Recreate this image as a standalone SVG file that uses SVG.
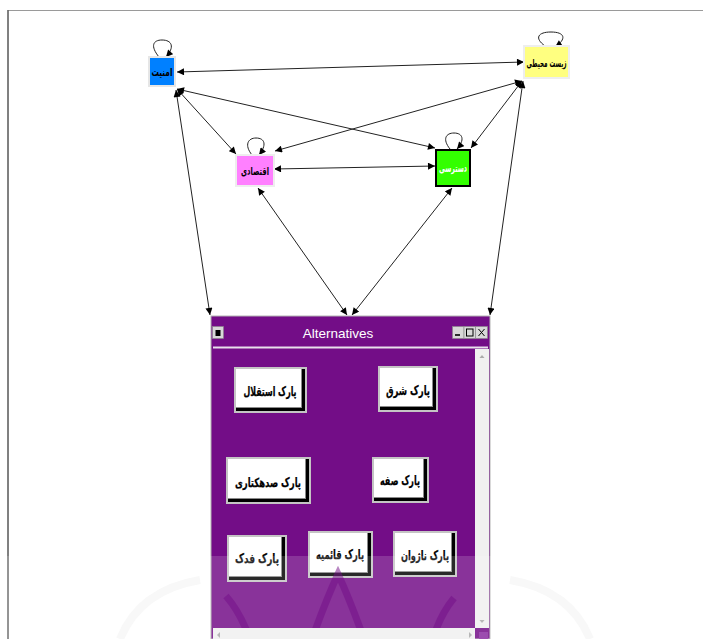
<svg xmlns="http://www.w3.org/2000/svg" width="703" height="639" viewBox="0 0 703 639">
<style>
.fa{font-family:"DejaVu Sans",sans-serif;font-weight:bold;text-anchor:middle;dominant-baseline:central;direction:rtl}
.nl{font-size:11px;fill:#000}
.bl{font-size:12.5px;fill:#000;stroke:#000;stroke-width:0.25}
.e{fill:none;stroke:#222;stroke-width:1}
.bo{fill:#C4C4C4}
.bs{fill:#000}
.bm{fill:#8A8A8A}
.bf{fill:#FFFFFF}
.tb{fill:#D8D8D8;stroke:#888;stroke-width:0.6}
</style>
<defs>
<marker id="ah" viewBox="0 0 10 10" refX="10" refY="5" markerWidth="8" markerHeight="7" markerUnits="userSpaceOnUse" orient="auto-start-reverse">
<path d="M0,0 L10,5 L0,10 z" fill="#000"/>
</marker>
<clipPath id="content"><rect x="213" y="349" width="262" height="279"/></clipPath>
</defs>
<rect width="703" height="639" fill="#fff"/>
<path d="M8,639 L8,10.5 L703,10.5" fill="none" stroke="#9A9A9A" stroke-width="1.2"/>
<path d="M8,10 L8,639" stroke="#555" stroke-width="1.2"/>

<g id="connectors">
<line class="e" x1="177" y1="72" x2="524" y2="62" marker-start="url(#ah)" marker-end="url(#ah)"/>
<line class="e" x1="177" y1="89" x2="236" y2="154" marker-start="url(#ah)" marker-end="url(#ah)"/>
<line class="e" x1="177" y1="89" x2="435" y2="148" marker-start="url(#ah)" marker-end="url(#ah)"/>
<line class="e" x1="176" y1="90" x2="210" y2="315" marker-start="url(#ah)" marker-end="url(#ah)"/>
<line class="e" x1="522" y1="81" x2="275" y2="151" marker-start="url(#ah)" marker-end="url(#ah)"/>
<line class="e" x1="522" y1="81" x2="471" y2="148" marker-start="url(#ah)" marker-end="url(#ah)"/>
<line class="e" x1="523" y1="81" x2="490" y2="315" marker-start="url(#ah)" marker-end="url(#ah)"/>
<line class="e" x1="274" y1="169" x2="435" y2="166" marker-start="url(#ah)" marker-end="url(#ah)"/>
<line class="e" x1="258" y1="188" x2="347" y2="315" marker-start="url(#ah)" marker-end="url(#ah)"/>
<line class="e" x1="452" y1="188" x2="352" y2="315" marker-start="url(#ah)" marker-end="url(#ah)"/>
<path class="e" d="M159,57 C150,46 153,40 162,40 C172,40 175,47 166,57" marker-end="url(#ah)"/>
<path class="e" d="M545,46 C534,38 538,32 551,32 C565,32 567,39 555,47" marker-end="url(#ah)"/>
<path class="e" d="M252,155 C244,145 248,138 256,138 C265,138 267,145 259,155" marker-end="url(#ah)"/>
<path class="e" d="M450,149 C442,139 446,133 454,133 C463,133 465,140 457,149" marker-end="url(#ah)"/>
</g>

<g id="n-amniyat">
<rect x="148" y="56" width="28" height="31" fill="#E6E6E6"/>
<rect x="150" y="58" width="24" height="27" fill="#0080FF"/>
<text class="fa nl" x="162" y="72" textLength="21" lengthAdjust="spacingAndGlyphs">امنیت</text>
</g>
<g id="n-zist">
<rect x="523" y="45" width="47" height="34" fill="#EEEEEE"/>
<rect x="525" y="47" width="43" height="30" fill="#FFFF80"/>
<text class="fa nl" x="546.5" y="63" textLength="40" lengthAdjust="spacingAndGlyphs">زیست محیطی</text>
</g>
<g id="n-eqtesadi">
<rect x="235" y="154" width="40" height="33" fill="#EEEEEE"/>
<rect x="237" y="156" width="36" height="29" fill="#FF80FF"/>
<text class="fa nl" x="255" y="171" textLength="28" lengthAdjust="spacingAndGlyphs">اقتصادی</text>
</g>
<g id="n-dastresi">
<rect x="436" y="150" width="34" height="36" fill="#33FF00" stroke="#000" stroke-width="2"/>
<text class="fa nl" x="453" y="168" style="fill:#fff" textLength="28" lengthAdjust="spacingAndGlyphs">دسترسی</text>
</g>

<g id="alternatives">
<rect x="211" y="316" width="279" height="323" fill="#730D87" stroke="#B4B4B4" stroke-width="1"/>
<line x1="213" y1="347.5" x2="488" y2="347.5" stroke="#E8E0EC" stroke-width="2"/>
<text x="338" y="338" font-family="Liberation Sans, Arial, sans-serif" font-size="13.5" fill="#fff" text-anchor="middle">Alternatives</text>
<rect class="tb" x="212.5" y="326.5" width="11" height="12"/>
<rect x="215.5" y="330" width="5" height="6" fill="#000"/>
<rect class="tb" x="452.5" y="326.5" width="11.5" height="12"/>
<rect class="tb" x="464" y="326.5" width="11.5" height="12"/>
<rect class="tb" x="475.5" y="326.5" width="12" height="12"/>
<line x1="455" y1="335" x2="460" y2="335" stroke="#000" stroke-width="1.6"/>
<rect x="466.5" y="329" width="6.5" height="7" fill="none" stroke="#000" stroke-width="1"/>
<path d="M478.5,329 L484.5,336 M484.5,329 L478.5,336" stroke="#000" stroke-width="1"/>
<rect x="475" y="349" width="14" height="279" fill="#F0F0F0"/>
<path d="M479.5,358 L482,355 L484.5,358 z" fill="#AAA"/>
<path d="M479.5,620 L482,623 L484.5,620 z" fill="#AAA"/>
<rect x="213" y="628" width="262" height="11" fill="#F0F0F0"/>
<path d="M220,632 L217,635 L220,638 z" fill="#AAA"/>
<path d="M469,632 L472,635 L469,638 z" fill="#AAA"/>
<rect x="479" y="632" width="9" height="7" fill="#8A2BA0"/>
</g>

<g id="b-esteghlal">
<rect class="bo" x="234" y="367" width="73" height="46"/>
<rect class="bs" x="236" y="369" width="69" height="42"/>
<rect class="bm" x="236" y="369" width="66" height="39"/>
<rect class="bf" x="236" y="369" width="65" height="38"/>
<text class="fa bl" x="270" y="391" textLength="53" lengthAdjust="spacingAndGlyphs">پارک استقلال</text>
</g>
<g id="b-shargh">
<rect class="bo" x="378" y="366" width="60" height="46"/>
<rect class="bs" x="380" y="368" width="56" height="42"/>
<rect class="bm" x="380" y="368" width="53" height="39"/>
<rect class="bf" x="380" y="368" width="52" height="38"/>
<text class="fa bl" x="408" y="390" textLength="44" lengthAdjust="spacingAndGlyphs">پارک شرق</text>
</g>
<g id="b-sadhektari">
<rect class="bo" x="226" y="457" width="85" height="47"/>
<rect class="bs" x="228" y="459" width="81" height="43"/>
<rect class="bm" x="228" y="459" width="78" height="40"/>
<rect class="bf" x="228" y="459" width="77" height="39"/>
<text class="fa bl" x="268" y="482" textLength="66" lengthAdjust="spacingAndGlyphs">پارک صدهکتاری</text>
</g>
<g id="b-soffeh">
<rect class="bo" x="372" y="457" width="57" height="46"/>
<rect class="bs" x="374" y="459" width="53" height="42"/>
<rect class="bm" x="374" y="459" width="50" height="39"/>
<rect class="bf" x="374" y="459" width="49" height="38"/>
<text class="fa bl" x="400" y="480" textLength="40" lengthAdjust="spacingAndGlyphs">پارک صفه</text>
</g>
<g id="b-fadak">
<rect class="bo" x="227" y="535" width="60" height="47"/>
<rect class="bs" x="229" y="537" width="56" height="43"/>
<rect class="bm" x="229" y="537" width="53" height="40"/>
<rect class="bf" x="229" y="537" width="52" height="39"/>
<text class="fa bl" x="257" y="558" textLength="44" lengthAdjust="spacingAndGlyphs">پارک فدک</text>
</g>
<g id="b-ghaemieh">
<rect class="bo" x="308" y="531" width="65" height="47"/>
<rect class="bs" x="310" y="533" width="61" height="43"/>
<rect class="bm" x="310" y="533" width="58" height="40"/>
<rect class="bf" x="310" y="533" width="57" height="39"/>
<text class="fa bl" x="340" y="554" textLength="48" lengthAdjust="spacingAndGlyphs">پارک قائمیه</text>
</g>
<g id="b-nazhvan">
<rect class="bo" x="393" y="531" width="64" height="46"/>
<rect class="bs" x="395" y="533" width="60" height="42"/>
<rect class="bm" x="395" y="533" width="57" height="39"/>
<rect class="bf" x="395" y="533" width="56" height="38"/>
<text class="fa bl" x="425" y="555" textLength="48" lengthAdjust="spacingAndGlyphs">پارک ناژوان</text>
</g>

<g id="watermark">
<rect x="0" y="556" width="703" height="83" fill="#fff" opacity="0.16"/>
<g clip-path="url(#content)" fill="none" stroke="#730D87" stroke-width="7" opacity="0.5">
<path d="M226,596 Q240,612 250,639"/>
<path d="M312,639 Q326,600 338,574 Q350,600 364,639"/>
<path d="M454,598 Q440,615 433,639"/>
</g>
<g fill="none" stroke="#F8F8F8" stroke-width="8">
<path d="M120,639 Q140,590 200,580"/>
<path d="M590,639 Q570,590 510,580"/>
</g>
</g>
</svg>
